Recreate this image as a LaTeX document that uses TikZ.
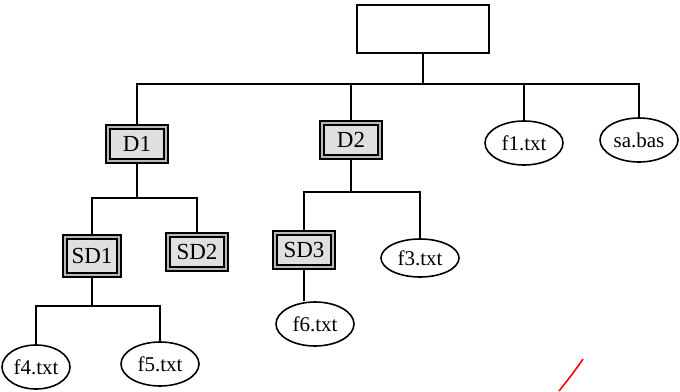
\documentclass[tikz,border=0pt]{standalone}
\usepackage{fontspec}
\setmainfont{Liberation Serif}
\usetikzlibrary{shapes.geometric}

\begin{document}
\begin{tikzpicture}[x=0.5pt,y=-0.5pt,line width=0.9pt]
\tikzstyle{dirbox}=[draw,line width=0.9pt,double=gray!55,double distance=0.9pt,fill=gray!25,inner sep=0pt,minimum width=29pt,minimum height=17pt,font=\fontsize{11.5}{13}\selectfont]
\tikzstyle{filenode}=[draw,ellipse,line width=0.8pt,inner sep=0pt,minimum width=39pt,minimum height=22pt,font=\fontsize{10.5}{12}\selectfont]
\useasboundingbox (0,0) rectangle (680,391);
\node [draw,line width=0.8pt,minimum width=66pt,minimum height=24pt] (root) at (423,29) {};
\node [dirbox] (D1) at (137,144) {D1};
\node [dirbox] (D2) at (351,140) {D2};
\node [filenode] (f1) at (524,143) {f1.txt};
\node [filenode] (saBas) at (639,140) {sa.bas};
\node [dirbox,minimum width=27pt,minimum height=19pt] (SD1) at (92,256) {SD1};
\node [dirbox] (SD2) at (197,252) {SD2};
\node [dirbox] (SD3) at (304,250) {SD3};
\node [filenode,minimum height=19pt] (f3) at (420,258) {f3.txt};
\node [filenode] (f6) at (315,324) {f6.txt};
\node [filenode,minimum width=34pt] (f4) at (36,367) {f4.txt};
\node [filenode] (f5) at (160,364) {f5.txt};
% buses
\coordinate (rootbus) at (423,84);
\coordinate (dOnebus) at (137,198);
\coordinate (dTwobus) at (351,192);
\coordinate (sdOnebus) at (92,306);
\draw (root) -- (rootbus);
\draw (D1) |- (rootbus) -| (saBas);
\draw (D2) -- (D2 |- rootbus);
\draw (f1) -- (f1 |- rootbus);
\draw (D1) -- (dOnebus);
\draw (SD1) |- (dOnebus) -| (SD2);
\draw (D2) -- (dTwobus);
\draw (SD3) |- (dTwobus) -| (f3);
\draw (SD1) -- (sdOnebus);
\draw (f4) |- (sdOnebus) -| (f5);
\draw (SD3.south) -- (SD3.south |- f6.north);
% red mark
\draw [red,line width=0.8pt] (583,359) .. controls (574,372) .. (559,391);
\end{tikzpicture}
\end{document}
